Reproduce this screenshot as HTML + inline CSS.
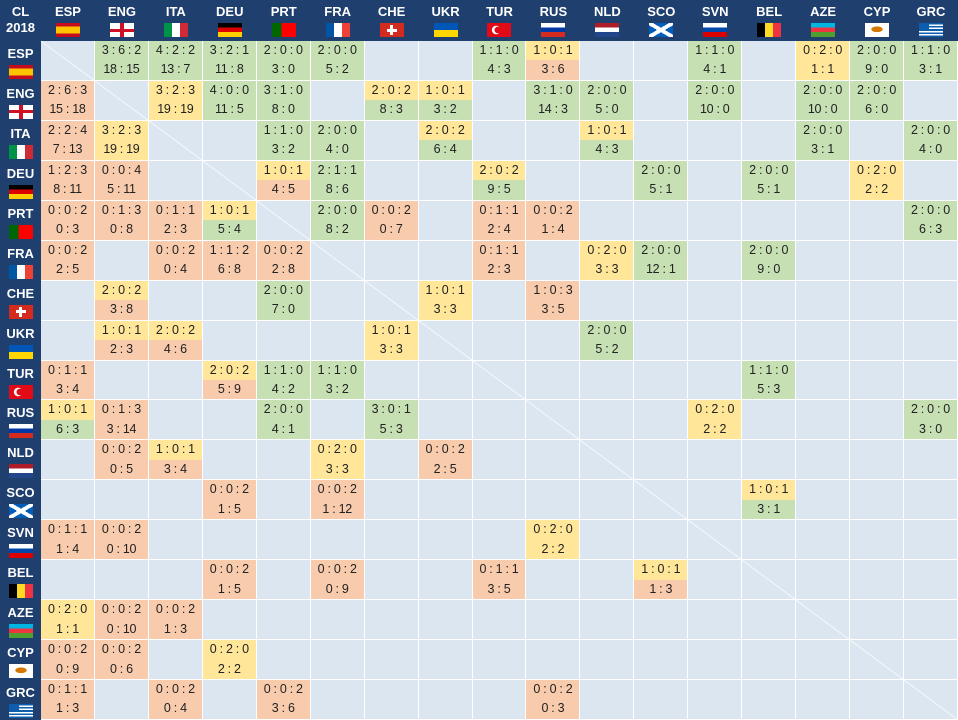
<!DOCTYPE html>
<html><head><meta charset="utf-8"><style>
*{margin:0;padding:0;box-sizing:border-box}
body{width:958px;height:720px;overflow:hidden;background:#fff;font-family:"Liberation Sans",Arial,sans-serif}
#g{position:relative;display:grid;grid-template-columns:41px repeat(17,53.94px);grid-template-rows:41px repeat(17,39.94px);width:958px;height:720px;background:#fff}
p{background:#dce6f1;border-right:1px solid #fff;border-bottom:1px solid #fff;display:flex;flex-direction:column}
p i{flex:1;font-style:normal;font-size:12.5px;color:#222;text-align:center;line-height:19px;letter-spacing:-0.3px;white-space:nowrap;overflow:hidden}
.g{background:#c6e0b4}.y{background:#ffe699}.o{background:#f8cbad}
h1,h2{background:#1f3f6e;color:#fff;font-size:13px;font-weight:bold;text-align:center;display:flex;flex-direction:column;align-items:center;padding-top:4px;line-height:16px}
h2{padding-top:5px}
s{display:block;width:24px;height:14px;margin-top:3px;text-decoration:none}
.ESP{background:linear-gradient(#c60b1e 25%,#ffc400 25% 75%,#c60b1e 75%)}
.ENG{background:linear-gradient(#ce1124,#ce1124) center/100% 3px no-repeat,linear-gradient(#ce1124,#ce1124) center/4px 100% no-repeat,#fff}
.ITA{background:linear-gradient(90deg,#009246 33%,#fff 33% 66%,#ce2b37 66%)}
.DEU{background:linear-gradient(#000 33%,#d00 33% 66%,#ffce00 66%)}
.PRT{background:linear-gradient(90deg,#060 40%,#f00 40%)}
.FRA{background:linear-gradient(90deg,#0055a4 33%,#fff 33% 66%,#ef4135 66%)}
.CHE{background:linear-gradient(#fff,#fff) center/10px 3px no-repeat,linear-gradient(#fff,#fff) center/3px 10px no-repeat,#d52b1e}
.UKR{background:linear-gradient(#0057b7 50%,#ffd700 50%)}
.TUR{background:radial-gradient(circle at 45% 50%,#e30a17 3px,transparent 3.5px),radial-gradient(circle at 38% 50%,#fff 4px,transparent 4.5px),#e30a17}
.RUS{background:linear-gradient(#fff 33%,#0039a6 33% 66%,#d52b1e 66%)}
.NLD{background:linear-gradient(#ae1c28 33%,#fff 33% 66%,#21468b 66%)}
.SCO{background:linear-gradient(to top right,transparent 42%,#fff 42% 58%,transparent 58%),linear-gradient(to bottom right,transparent 42%,#fff 42% 58%,transparent 58%),#005eb8}
.SVN{background:linear-gradient(#fff 33%,#0047ab 33% 66%,#d00 66%)}
.BEL{background:linear-gradient(90deg,#000 33%,#fdda24 33% 66%,#ef3340 66%)}
.AZE{background:linear-gradient(#00b5e2 33%,#ef3340 33% 66%,#509e2f 66%)}
.CYP{background:radial-gradient(ellipse 6px 3px at 50% 45%,#d57800 90%,transparent 100%),#fff}
.GRC{background:linear-gradient(#0d5eaf,#0d5eaf) 0 0/10px 8px no-repeat,repeating-linear-gradient(#0d5eaf 0 1.6px,#fff 1.6px 3.1px)}
svg{position:absolute;left:0;top:0;pointer-events:none}
</style></head><body><div id="g">
<h1>CL<br>2018</h1><h1>ESP<s class="ESP"></s></h1><h1>ENG<s class="ENG"></s></h1><h1>ITA<s class="ITA"></s></h1><h1>DEU<s class="DEU"></s></h1><h1>PRT<s class="PRT"></s></h1><h1>FRA<s class="FRA"></s></h1><h1>CHE<s class="CHE"></s></h1><h1>UKR<s class="UKR"></s></h1><h1>TUR<s class="TUR"></s></h1><h1>RUS<s class="RUS"></s></h1><h1>NLD<s class="NLD"></s></h1><h1>SCO<s class="SCO"></s></h1><h1>SVN<s class="SVN"></s></h1><h1>BEL<s class="BEL"></s></h1><h1>AZE<s class="AZE"></s></h1><h1>CYP<s class="CYP"></s></h1><h1>GRC<s class="GRC"></s></h1>

<h2>ESP<s class="ESP"></s></h2><p></p><p><i class=g>3 : 6 : 2</i><i class=g>18 : 15</i></p><p><i class=g>4 : 2 : 2</i><i class=g>13 : 7</i></p><p><i class=g>3 : 2 : 1</i><i class=g>11 : 8</i></p><p><i class=g>2 : 0 : 0</i><i class=g>3 : 0</i></p><p><i class=g>2 : 0 : 0</i><i class=g>5 : 2</i></p><p></p><p></p><p><i class=g>1 : 1 : 0</i><i class=g>4 : 3</i></p><p><i class=y>1 : 0 : 1</i><i class=o>3 : 6</i></p><p></p><p></p><p><i class=g>1 : 1 : 0</i><i class=g>4 : 1</i></p><p></p><p><i class=y>0 : 2 : 0</i><i class=y>1 : 1</i></p><p><i class=g>2 : 0 : 0</i><i class=g>9 : 0</i></p><p><i class=g>1 : 1 : 0</i><i class=g>3 : 1</i></p>

<h2>ENG<s class="ENG"></s></h2><p><i class=o>2 : 6 : 3</i><i class=o>15 : 18</i></p><p></p><p><i class=y>3 : 2 : 3</i><i class=y>19 : 19</i></p><p><i class=g>4 : 0 : 0</i><i class=g>11 : 5</i></p><p><i class=g>3 : 1 : 0</i><i class=g>8 : 0</i></p><p></p><p><i class=y>2 : 0 : 2</i><i class=g>8 : 3</i></p><p><i class=y>1 : 0 : 1</i><i class=g>3 : 2</i></p><p></p><p><i class=g>3 : 1 : 0</i><i class=g>14 : 3</i></p><p><i class=g>2 : 0 : 0</i><i class=g>5 : 0</i></p><p></p><p><i class=g>2 : 0 : 0</i><i class=g>10 : 0</i></p><p></p><p><i class=g>2 : 0 : 0</i><i class=g>10 : 0</i></p><p><i class=g>2 : 0 : 0</i><i class=g>6 : 0</i></p><p></p>

<h2>ITA<s class="ITA"></s></h2><p><i class=o>2 : 2 : 4</i><i class=o>7 : 13</i></p><p><i class=y>3 : 2 : 3</i><i class=y>19 : 19</i></p><p></p><p></p><p><i class=g>1 : 1 : 0</i><i class=g>3 : 2</i></p><p><i class=g>2 : 0 : 0</i><i class=g>4 : 0</i></p><p></p><p><i class=y>2 : 0 : 2</i><i class=g>6 : 4</i></p><p></p><p></p><p><i class=y>1 : 0 : 1</i><i class=g>4 : 3</i></p><p></p><p></p><p></p><p><i class=g>2 : 0 : 0</i><i class=g>3 : 1</i></p><p></p><p><i class=g>2 : 0 : 0</i><i class=g>4 : 0</i></p>

<h2>DEU<s class="DEU"></s></h2><p><i class=o>1 : 2 : 3</i><i class=o>8 : 11</i></p><p><i class=o>0 : 0 : 4</i><i class=o>5 : 11</i></p><p></p><p></p><p><i class=y>1 : 0 : 1</i><i class=o>4 : 5</i></p><p><i class=g>2 : 1 : 1</i><i class=g>8 : 6</i></p><p></p><p></p><p><i class=y>2 : 0 : 2</i><i class=g>9 : 5</i></p><p></p><p></p><p><i class=g>2 : 0 : 0</i><i class=g>5 : 1</i></p><p></p><p><i class=g>2 : 0 : 0</i><i class=g>5 : 1</i></p><p></p><p><i class=y>0 : 2 : 0</i><i class=y>2 : 2</i></p><p></p>

<h2>PRT<s class="PRT"></s></h2><p><i class=o>0 : 0 : 2</i><i class=o>0 : 3</i></p><p><i class=o>0 : 1 : 3</i><i class=o>0 : 8</i></p><p><i class=o>0 : 1 : 1</i><i class=o>2 : 3</i></p><p><i class=y>1 : 0 : 1</i><i class=g>5 : 4</i></p><p></p><p><i class=g>2 : 0 : 0</i><i class=g>8 : 2</i></p><p><i class=o>0 : 0 : 2</i><i class=o>0 : 7</i></p><p></p><p><i class=o>0 : 1 : 1</i><i class=o>2 : 4</i></p><p><i class=o>0 : 0 : 2</i><i class=o>1 : 4</i></p><p></p><p></p><p></p><p></p><p></p><p></p><p><i class=g>2 : 0 : 0</i><i class=g>6 : 3</i></p>

<h2>FRA<s class="FRA"></s></h2><p><i class=o>0 : 0 : 2</i><i class=o>2 : 5</i></p><p></p><p><i class=o>0 : 0 : 2</i><i class=o>0 : 4</i></p><p><i class=o>1 : 1 : 2</i><i class=o>6 : 8</i></p><p><i class=o>0 : 0 : 2</i><i class=o>2 : 8</i></p><p></p><p></p><p></p><p><i class=o>0 : 1 : 1</i><i class=o>2 : 3</i></p><p></p><p><i class=y>0 : 2 : 0</i><i class=y>3 : 3</i></p><p><i class=g>2 : 0 : 0</i><i class=g>12 : 1</i></p><p></p><p><i class=g>2 : 0 : 0</i><i class=g>9 : 0</i></p><p></p><p></p><p></p>

<h2>CHE<s class="CHE"></s></h2><p></p><p><i class=y>2 : 0 : 2</i><i class=o>3 : 8</i></p><p></p><p></p><p><i class=g>2 : 0 : 0</i><i class=g>7 : 0</i></p><p></p><p></p><p><i class=y>1 : 0 : 1</i><i class=y>3 : 3</i></p><p></p><p><i class=o>1 : 0 : 3</i><i class=o>3 : 5</i></p><p></p><p></p><p></p><p></p><p></p><p></p><p></p>

<h2>UKR<s class="UKR"></s></h2><p></p><p><i class=y>1 : 0 : 1</i><i class=o>2 : 3</i></p><p><i class=y>2 : 0 : 2</i><i class=o>4 : 6</i></p><p></p><p></p><p></p><p><i class=y>1 : 0 : 1</i><i class=y>3 : 3</i></p><p></p><p></p><p></p><p><i class=g>2 : 0 : 0</i><i class=g>5 : 2</i></p><p></p><p></p><p></p><p></p><p></p><p></p>

<h2>TUR<s class="TUR"></s></h2><p><i class=o>0 : 1 : 1</i><i class=o>3 : 4</i></p><p></p><p></p><p><i class=y>2 : 0 : 2</i><i class=o>5 : 9</i></p><p><i class=g>1 : 1 : 0</i><i class=g>4 : 2</i></p><p><i class=g>1 : 1 : 0</i><i class=g>3 : 2</i></p><p></p><p></p><p></p><p></p><p></p><p></p><p></p><p><i class=g>1 : 1 : 0</i><i class=g>5 : 3</i></p><p></p><p></p><p></p>

<h2>RUS<s class="RUS"></s></h2><p><i class=y>1 : 0 : 1</i><i class=g>6 : 3</i></p><p><i class=o>0 : 1 : 3</i><i class=o>3 : 14</i></p><p></p><p></p><p><i class=g>2 : 0 : 0</i><i class=g>4 : 1</i></p><p></p><p><i class=g>3 : 0 : 1</i><i class=g>5 : 3</i></p><p></p><p></p><p></p><p></p><p></p><p><i class=y>0 : 2 : 0</i><i class=y>2 : 2</i></p><p></p><p></p><p></p><p><i class=g>2 : 0 : 0</i><i class=g>3 : 0</i></p>

<h2>NLD<s class="NLD"></s></h2><p></p><p><i class=o>0 : 0 : 2</i><i class=o>0 : 5</i></p><p><i class=y>1 : 0 : 1</i><i class=o>3 : 4</i></p><p></p><p></p><p><i class=y>0 : 2 : 0</i><i class=y>3 : 3</i></p><p></p><p><i class=o>0 : 0 : 2</i><i class=o>2 : 5</i></p><p></p><p></p><p></p><p></p><p></p><p></p><p></p><p></p><p></p>

<h2>SCO<s class="SCO"></s></h2><p></p><p></p><p></p><p><i class=o>0 : 0 : 2</i><i class=o>1 : 5</i></p><p></p><p><i class=o>0 : 0 : 2</i><i class=o>1 : 12</i></p><p></p><p></p><p></p><p></p><p></p><p></p><p></p><p><i class=y>1 : 0 : 1</i><i class=g>3 : 1</i></p><p></p><p></p><p></p>

<h2>SVN<s class="SVN"></s></h2><p><i class=o>0 : 1 : 1</i><i class=o>1 : 4</i></p><p><i class=o>0 : 0 : 2</i><i class=o>0 : 10</i></p><p></p><p></p><p></p><p></p><p></p><p></p><p></p><p><i class=y>0 : 2 : 0</i><i class=y>2 : 2</i></p><p></p><p></p><p></p><p></p><p></p><p></p><p></p>

<h2>BEL<s class="BEL"></s></h2><p></p><p></p><p></p><p><i class=o>0 : 0 : 2</i><i class=o>1 : 5</i></p><p></p><p><i class=o>0 : 0 : 2</i><i class=o>0 : 9</i></p><p></p><p></p><p><i class=o>0 : 1 : 1</i><i class=o>3 : 5</i></p><p></p><p></p><p><i class=y>1 : 0 : 1</i><i class=o>1 : 3</i></p><p></p><p></p><p></p><p></p><p></p>

<h2>AZE<s class="AZE"></s></h2><p><i class=y>0 : 2 : 0</i><i class=y>1 : 1</i></p><p><i class=o>0 : 0 : 2</i><i class=o>0 : 10</i></p><p><i class=o>0 : 0 : 2</i><i class=o>1 : 3</i></p><p></p><p></p><p></p><p></p><p></p><p></p><p></p><p></p><p></p><p></p><p></p><p></p><p></p><p></p>

<h2>CYP<s class="CYP"></s></h2><p><i class=o>0 : 0 : 2</i><i class=o>0 : 9</i></p><p><i class=o>0 : 0 : 2</i><i class=o>0 : 6</i></p><p></p><p><i class=y>0 : 2 : 0</i><i class=y>2 : 2</i></p><p></p><p></p><p></p><p></p><p></p><p></p><p></p><p></p><p></p><p></p><p></p><p></p><p></p>

<h2>GRC<s class="GRC"></s></h2><p><i class=o>0 : 1 : 1</i><i class=o>1 : 3</i></p><p></p><p><i class=o>0 : 0 : 2</i><i class=o>0 : 4</i></p><p></p><p><i class=o>0 : 0 : 2</i><i class=o>3 : 6</i></p><p></p><p></p><p></p><p></p><p><i class=o>0 : 0 : 2</i><i class=o>0 : 3</i></p><p></p><p></p><p></p><p></p><p></p><p></p><p></p>
<svg width="958" height="720"><line x1="41" y1="41" x2="958" y2="720" stroke="#fff" stroke-width="1" opacity="0.7"/></svg>
</div></body></html>
